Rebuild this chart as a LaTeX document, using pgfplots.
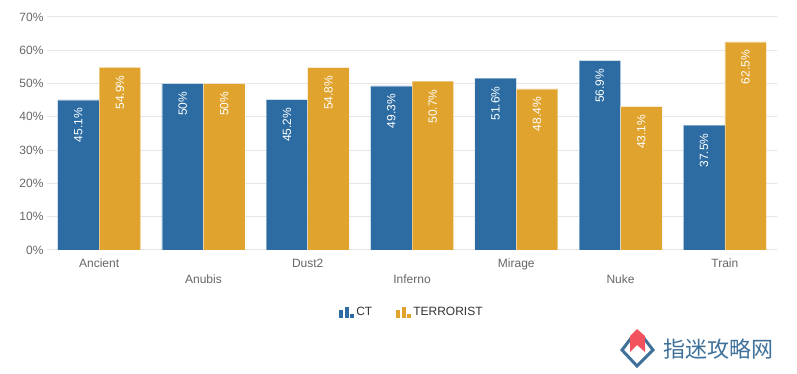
\documentclass[border=0pt]{standalone}
\usepackage{fontspec}
\setmainfont{Liberation Sans}
\newfontfamily\cjk{Noto Sans CJK SC}
\usepackage{pgfplots}
\pgfplotsset{compat=1.18}
\definecolor{ctblue}{HTML}{2C6CA3}
\definecolor{tyellow}{HTML}{E0A32E}
\definecolor{gridgray}{HTML}{E6E6E6}
\definecolor{labgray}{HTML}{666666}
\definecolor{leggray}{HTML}{333333}
\definecolor{wmblue}{HTML}{3F7099}
\definecolor{wmred}{HTML}{F2525E}
\begin{document}
\begin{tikzpicture}[x=1pt,y=1pt]
\path[use as bounding box] (-47,-124) rectangle (750,250);
\begin{axis}[at={(0,0)}, anchor=south west, scale only axis,
  width=730pt, height=233pt,
  xmin=-0.5, xmax=6.5, ymin=0, ymax=70,
  ybar=0pt, bar width=41.5pt,
  axis line style={draw=none},
  major tick length=0pt,
  ytick={0,10,...,70},
  yticklabel={\pgfmathprintnumber{\tick}\%},
  ymajorgrids, grid style={gridgray, line width=1pt},
  tick label style={text=labgray, font=\fontsize{12}{14}\selectfont},
  /pgf/number format/assume math mode=true,
  xtick={0,2,4,6},
  xticklabels={Ancient,Dust2,Mirage,Train},
  xticklabel style={yshift=-5pt, text height=9pt, text depth=3pt},
  extra x ticks={1,3,5},
  extra x tick labels={Anubis,Inferno,Nuke},
  extra x tick style={grid=none, xticklabel style={yshift=-16pt}},
  nodes near coords={\pgfmathprintnumber[fixed,precision=1]{\pgfplotspointmeta}\%},
  every node near coord/.append style={yshift=-8pt, rotate=90, anchor=east, text=white,
     font=\fontsize{12}{14}\selectfont, inner sep=0pt},
  legend columns=2,
  legend style={at={(0.5,-0.266)}, anchor=center, draw=none, fill=none,
     font=\fontsize{12}{14}\selectfont, text=leggray,
     /tikz/every even column/.append style={column sep=22pt}},
  legend image code/.code={
     \fill[draw=none] (0pt,-6pt) rectangle (4pt,2pt);
     \fill[draw=none] (5.5pt,-6pt) rectangle (9.5pt,5pt);
     \fill[draw=none] (11pt,-6pt) rectangle (15pt,-2pt);
  },
]
\addplot[fill=ctblue, draw=white, draw opacity=0.4, line width=0.6pt]
  coordinates {(0,45.1) (1,50) (2,45.2) (3,49.3) (4,51.6) (5,56.9) (6,37.5)};
\addplot[fill=tyellow, draw=white, draw opacity=0.4, line width=0.6pt]
  coordinates {(0,54.9) (1,50) (2,54.8) (3,50.7) (4,48.4) (5,43.1) (6,62.5)};
\legend{CT,TERRORIST}
\end{axis}
% watermark
\draw[wmblue, line width=3pt, line join=miter] (585,-87) -- (575,-100) -- (590,-116) -- (606,-100) -- (596,-87);
\fill[wmred] (590,-79) -- (598,-86) -- (598,-102) -- (590,-95) -- (583,-102) -- (583,-86) -- cycle;
\node[text=wmblue, font=\cjk\fontsize{22}{24}\selectfont, inner sep=0pt] at (671,-99) {指迷攻略网};
\end{tikzpicture}
\end{document}
